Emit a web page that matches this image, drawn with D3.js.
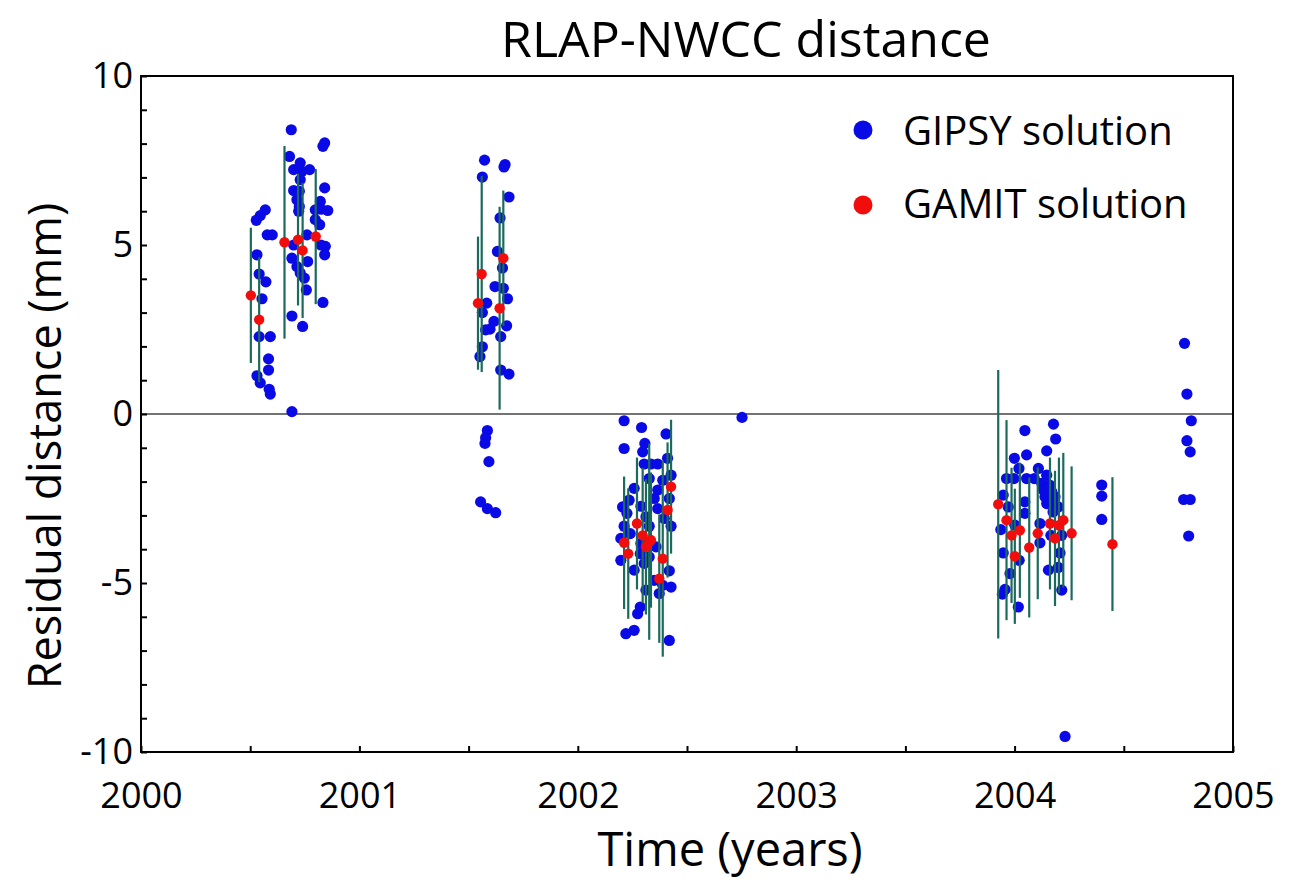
<!DOCTYPE html>
<html>
<head>
<meta charset="utf-8">
<script src="https://cdn.jsdelivr.net/npm/d3@7"></script>
<style>
  body { margin: 0; background: #fff; }
  text { font-family: "Open Sans", "Noto Sans", sans-serif; fill: #000; }
</style>
</head>
<body>
<div id="chart"></div>
<script>
// GIPSY solution points [year, residual mm]
const gipsy = [
  [2000.569, 6.04], [2000.546, 5.87], [2000.528, 5.73], [2000.578, 5.30], [2000.601, 5.30],
  [2000.531, 4.71], [2000.541, 4.14], [2000.572, 3.91], [2000.554, 3.41], [2000.541, 2.29],
  [2000.592, 2.29], [2000.584, 1.63], [2000.584, 1.30], [2000.531, 1.13], [2000.546, 0.92],
  [2000.587, 0.73], [2000.592, 0.59],
  [2000.688, 8.41], [2000.680, 7.62], [2000.699, 7.23], [2000.729, 7.43], [2000.737, 7.18],
  [2000.772, 7.23], [2000.729, 6.93], [2000.699, 6.61], [2000.725, 6.59], [2000.714, 6.34],
  [2000.725, 6.14], [2000.722, 6.00], [2000.760, 5.30], [2000.699, 5.00], [2000.691, 4.61],
  [2000.763, 4.51], [2000.714, 4.36], [2000.729, 4.17], [2000.748, 4.02], [2000.757, 3.67],
  [2000.691, 2.90], [2000.740, 2.59], [2000.691, 0.07],
  [2000.841, 8.02], [2000.833, 7.92], [2000.841, 6.69], [2000.821, 6.29], [2000.798, 6.04],
  [2000.824, 6.06], [2000.855, 6.02], [2000.798, 5.75], [2000.818, 5.60], [2000.824, 5.00],
  [2000.844, 4.96], [2000.841, 4.71], [2000.833, 3.30],
  [2001.573, 7.51], [2001.667, 7.38], [2001.662, 7.31], [2001.563, 7.01], [2001.685, 6.42],
  [2001.644, 5.80], [2001.632, 4.81], [2001.655, 4.32], [2001.621, 3.77], [2001.659, 3.72],
  [2001.678, 3.41], [2001.583, 3.28], [2001.563, 3.00], [2001.616, 2.74], [2001.598, 2.51],
  [2001.578, 2.49], [2001.674, 2.61], [2001.647, 2.29], [2001.563, 1.99], [2001.552, 1.70],
  [2001.647, 1.30], [2001.685, 1.18], [2001.586, -0.49], [2001.578, -0.70], [2001.575, -0.87],
  [2001.593, -1.41], [2001.555, -2.60], [2001.586, -2.80], [2001.624, -2.92],
  [2002.212, -0.20], [2002.292, -0.40], [2002.404, -0.59], [2002.307, -0.87], [2002.212, -1.02],
  [2002.297, -1.12], [2002.411, -1.31], [2002.304, -1.48], [2002.335, -1.48], [2002.366, -1.48],
  [2002.427, -1.81], [2002.327, -1.91], [2002.389, -1.96], [2002.258, -2.20], [2002.366, -2.25],
  [2002.350, -2.50], [2002.419, -2.50], [2002.235, -2.55], [2002.205, -2.75], [2002.289, -2.73],
  [2002.366, -2.80], [2002.225, -2.94], [2002.312, -3.04], [2002.396, -3.09], [2002.212, -3.32],
  [2002.327, -3.32], [2002.427, -3.32], [2002.240, -3.54], [2002.197, -3.68], [2002.289, -3.83],
  [2002.358, -3.93], [2002.286, -4.13], [2002.327, -4.23], [2002.197, -4.33], [2002.304, -4.42],
  [2002.258, -4.62], [2002.419, -4.64], [2002.350, -4.92], [2002.389, -5.07], [2002.427, -5.12],
  [2002.312, -5.21], [2002.373, -5.31], [2002.286, -5.71], [2002.274, -5.91], [2002.220, -6.50],
  [2002.258, -6.40], [2002.419, -6.70], [2002.752, -0.10],
  [2004.178, -0.30], [2004.188, -0.74], [2004.047, -0.49], [2004.147, -1.09], [2004.055, -1.21],
  [2003.999, -1.31], [2004.020, -1.61], [2004.109, -1.61], [2004.147, -1.81], [2003.963, -1.91],
  [2003.997, -1.91], [2004.055, -1.91], [2004.090, -1.91], [2004.124, -2.05], [2004.132, -2.25],
  [2004.170, -2.30], [2004.139, -2.45], [2004.185, -2.45], [2003.948, -2.40], [2004.047, -2.60],
  [2003.971, -2.75], [2004.147, -2.65], [2004.200, -2.75], [2004.047, -2.94], [2004.116, -3.24],
  [2004.001, -3.29], [2003.937, -3.42], [2004.166, -3.59], [2004.216, -3.59], [2004.116, -3.81],
  [2003.948, -4.11], [2004.208, -4.11], [2004.021, -4.33], [2004.200, -4.54], [2004.155, -4.62],
  [2003.979, -4.72], [2003.956, -5.19], [2003.944, -5.33], [2004.216, -5.21], [2004.017, -5.71],
  [2004.160, -2.10], [2004.172, -2.60], [2004.176, -2.90], [2004.155, -2.20],
  [2004.231, -9.54], [2004.399, -2.10], [2004.399, -2.43], [2004.399, -3.12],
  [2004.778, 2.09], [2004.789, 0.59], [2004.809, -0.20], [2004.789, -0.79], [2004.804, -1.12],
  [2004.774, -2.53], [2004.804, -2.53], [2004.797, -3.61]
];

// GAMIT solution points [year, residual mm, error bar half-length mm]
const gamit = [
  [2000.503, 3.51, 2.0], [2000.541, 2.79, 1.85], [2000.657, 5.08, 2.85], [2000.719, 5.16, 1.95],
  [2000.740, 4.84, 2.0], [2000.800, 5.25, 2.0],
  [2001.543, 3.28, 1.97], [2001.560, 4.14, 2.9], [2001.642, 3.13, 3.0], [2001.659, 4.61, 2.0],
  [2002.212, -3.81, 1.96], [2002.231, -4.13, 1.93], [2002.271, -3.24, 1.95], [2002.297, -3.59, 2.0],
  [2002.312, -3.93, 2.0], [2002.327, -3.78, 2.9], [2002.335, -3.73, 2.0], [2002.373, -4.87, 1.9],
  [2002.389, -4.28, 2.9], [2002.411, -2.84, 2.0], [2002.427, -2.15, 1.98],
  [2003.925, -2.67, 3.97], [2003.963, -3.14, 2.96], [2003.986, -3.59, 2.0], [2004.001, -4.21, 2.0],
  [2004.024, -3.44, 2.0], [2004.067, -3.95, 2.07], [2004.106, -3.53, 1.95], [2004.162, -3.24, 1.95],
  [2004.185, -3.68, 2.0], [2004.203, -3.29, 2.0], [2004.223, -3.14, 1.99], [2004.261, -3.53, 1.98],
  [2004.448, -3.85, 1.98]
];

const xLabelTicks = [2000, 2001, 2002, 2003, 2004, 2005];
const yLabelTicks = [10, 5, 0, -5, -10];
const legendItems = ["GIPSY solution", "GAMIT solution"];

const W = 1293, H = 893;
const margin = {top: 76, right: 60, bottom: 141, left: 141};
const width = W - margin.left - margin.right,
      height = H - margin.top - margin.bottom;

const svg = d3.select("#chart")
  .append("svg")
  .attr("width", W)
  .attr("height", H);

const g = svg.append("g")
  .attr("transform", `translate(${margin.left},${margin.top})`);

const x = d3.scaleLinear().domain([2000, 2005]).range([0, width]);
const y = d3.scaleLinear().domain([-10, 10]).range([height, 0]);

// zero line
g.append("line")
  .attr("x1", 0).attr("x2", width)
  .attr("y1", y(0)).attr("y2", y(0))
  .attr("stroke", "#444").attr("stroke-width", 1.5);

// GIPSY points
g.append("g").selectAll("circle")
  .data(gipsy)
  .join("circle")
  .attr("cx", d => x(d[0]))
  .attr("cy", d => y(d[1]))
  .attr("r", 5.6)
  .attr("fill", "#0a0ae6");

// GAMIT error bars
g.append("g").selectAll("line")
  .data(gamit)
  .join("line")
  .attr("x1", d => x(d[0])).attr("x2", d => x(d[0]))
  .attr("y1", d => y(d[1] - d[2])).attr("y2", d => y(d[1] + d[2]))
  .attr("stroke", "#1c6a5c")
  .attr("stroke-width", 2.2);

// GAMIT points
g.append("g").selectAll("circle")
  .data(gamit)
  .join("circle")
  .attr("cx", d => x(d[0]))
  .attr("cy", d => y(d[1]))
  .attr("r", 5.2)
  .attr("fill", "#f20d0d");

// axes with inward ticks
const xAxis = g.append("g")
  .attr("transform", `translate(0,${height})`)
  .call(d3.axisBottom(x)
    .tickValues(d3.range(2000, 2005.01, 0.5))
    .tickSize(-6)
    .tickPadding(30)
    .tickFormat(d => xLabelTicks.includes(d) ? d : ""));

const yAxis = g.append("g")
  .call(d3.axisLeft(y)
    .tickValues(d3.range(-10, 10.01, 1))
    .tickSize(-6)
    .tickPadding(8)
    .tickFormat(d => yLabelTicks.includes(d) ? d : ""));

[xAxis, yAxis].forEach(a => {
  a.select(".domain").remove();
  a.selectAll(".tick line").attr("stroke", "#000").attr("stroke-width", 2);
  a.selectAll(".tick text").style("font-size", "36px").attr("fill", "#000");
});
xAxis.selectAll(".tick text").attr("dy", "0.71em");

// frame
g.append("rect")
  .attr("width", width).attr("height", height)
  .attr("fill", "none").attr("stroke", "#000").attr("stroke-width", 2);

// title and axis labels
svg.append("text")
  .attr("x", 746).attr("y", 57)
  .attr("text-anchor", "middle")
  .style("font-size", "50px")
  .text("RLAP-NWCC distance");

svg.append("text")
  .attr("x", 730).attr("y", 866)
  .attr("text-anchor", "middle")
  .style("font-size", "47px")
  .text("Time (years)");

svg.append("text")
  .attr("transform", "translate(61,446) rotate(-90)")
  .attr("text-anchor", "middle")
  .style("font-size", "45px")
  .text("Residual distance (mm)");

// legend
const legendColor = ["#0a0ae6", "#f20d0d"];
const legend = svg.append("g");
legendItems.forEach((name, i) => {
  legend.append("circle")
    .attr("cx", 863).attr("cy", 130 + i * 75)
    .attr("r", 9.5)
    .attr("fill", legendColor[i]);
  legend.append("text")
    .attr("x", 903).attr("y", 145 + i * 73)
    .style("font-size", "40px")
    .text(name);
});
</script>
</body>
</html>
